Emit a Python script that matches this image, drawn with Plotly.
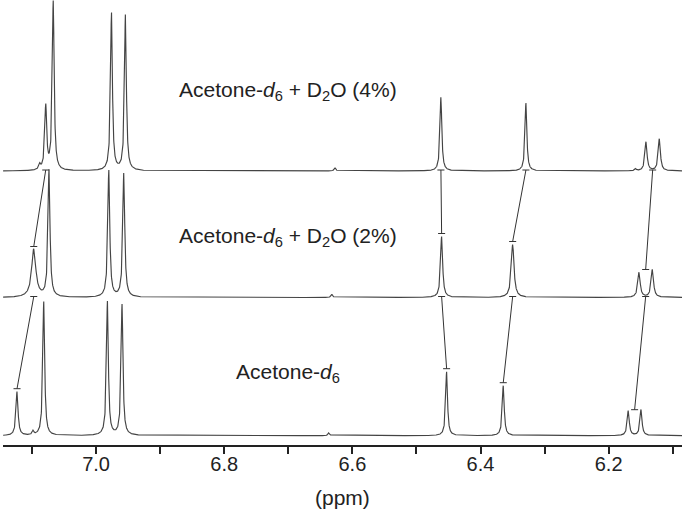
import numpy as np
import plotly.graph_objects as go

# peaks: position (ppm), height above baseline, half width (ppm)
# order in each list: a (moving), b, c, d, e, f, g1, g2
top_ppm = [7.0786, 7.0669, 6.9760, 6.9542, 6.4618, 6.3291, 6.1417, 6.1209]
top_height = [64, 169, 158, 156, 74, 68, 29, 32]
top_hw = [0.0018, 0.0017, 0.0017, 0.0017, 0.0017, 0.0017, 0.0020, 0.0020]

mid_ppm = [7.0973, 7.0735, 6.9802, 6.9568, 6.4607, 6.3498, 6.1526, 6.1318]
mid_height = [48, 127, 127, 124, 61, 53, 25, 28]
mid_hw = [0.0039, 0.0018, 0.0018, 0.0018, 0.0019, 0.0025, 0.0022, 0.0022]

bot_ppm = [7.1234, 7.0817, 6.9823, 6.9595, 6.4529, 6.3645, 6.1694, 6.1495]
bot_height = [44, 134, 134, 131, 64, 50, 25, 26]
bot_hw = [0.0019, 0.0017, 0.0017, 0.0017, 0.0017, 0.0018, 0.0019, 0.0019]

# small impurity bumps
top_minor_ppm = [7.088, 6.627, 6.158]
top_minor_height = [5, 3, 2]
mid_minor_ppm = [6.632]
mid_minor_height = [3]
bot_minor_ppm = [7.0984, 6.6367]
bot_minor_height = [4, 3]

# vertical offset of each spectrum
baselines = {"top": 274, "mid": 147.5, "bot": 9.3}

labels = ["Acetone-<i>d</i><sub>6</sub> + D<sub>2</sub>O (4%)",
          "Acetone-<i>d</i><sub>6</sub> + D<sub>2</sub>O (2%)",
          "Acetone-<i>d</i><sub>6</sub>"]
label_ppm = [6.700, 6.700, 6.701]
label_y = [354, 208, 72]

# which peaks are joined between neighbouring spectra
link_peaks = [[0], [4], [5], [6, 7]]

major_ticks = [7.0, 6.8, 6.6, 6.4, 6.2]
minor_ticks = [7.1, 6.9, 6.7, 6.5, 6.3, 6.1]

x_lo, x_hi = 6.0855, 7.1453
ppm = np.arange(x_lo, x_hi, 0.0002)


def spectrum(pos, hts, hws, mpos, mhts, base):
    y = np.full_like(ppm, base)
    for p, h, w in zip(pos, hts, hws):
        y += h * w**2 / ((ppm - p)**2 + w**2)
    for p, h in zip(mpos, mhts):
        y += h * 0.0015**2 / ((ppm - p)**2 + 0.0015**2)
    return y


spectra = {
    "top": (top_ppm, top_height, top_hw, top_minor_ppm, top_minor_height),
    "mid": (mid_ppm, mid_height, mid_hw, mid_minor_ppm, mid_minor_height),
    "bot": (bot_ppm, bot_height, bot_hw, bot_minor_ppm, bot_minor_height),
}

fig = go.Figure()
for key, (pos, hts, hws, mpos, mhts) in spectra.items():
    fig.add_trace(go.Scatter(x=ppm, y=spectrum(pos, hts, hws, mpos, mhts, baselines[key]),
                             mode='lines', line=dict(color='#444444', width=1.15),
                             hoverinfo='skip', showlegend=False))

# connector lines with small caps
cap = 0.0055
lx, ly = [], []
for upper, lower in [("top", "mid"), ("mid", "bot")]:
    up_pos = spectra[upper][0]
    lo_pos, lo_hts = spectra[lower][0], spectra[lower][1]
    for idx in link_peaks:
        x0 = np.mean([up_pos[i] for i in idx])
        y0 = baselines[upper] + 1
        x1 = np.mean([lo_pos[i] for i in idx])
        gap = 3 if len(idx) == 1 else 0
        y1 = baselines[lower] + max(lo_hts[i] for i in idx) + gap
        lx += [x0, x1, None, x0 - cap, x0 + cap, None, x1 - cap, x1 + cap, None]
        ly += [y0, y1, None, y0, y0, None, y1, y1, None]
fig.add_trace(go.Scatter(x=lx, y=ly, mode='lines', line=dict(color='#333333', width=1),
                         hoverinfo='skip', showlegend=False))

for txt, xp, yp in zip(labels, label_ppm, label_y):
    fig.add_annotation(x=xp, y=yp, text=txt, showarrow=False, xanchor='center', yanchor='middle',
                       font=dict(size=21, color='#222222'))

# axis title
fig.add_annotation(x=0.5, y=-0.117, xref='paper', yref='paper', text='(ppm)', showarrow=False,
                   xanchor='center', yanchor='middle', font=dict(size=21, color='#222222'))

fig.update_layout(
    width=685, height=515,
    margin=dict(l=3, r=3, t=0, b=70),
    plot_bgcolor='white', paper_bgcolor='white',
    font=dict(family='Liberation Sans, Arial, sans-serif', color='#222222', size=20),
    xaxis=dict(range=[x_hi, x_lo], tickmode='array', tickvals=major_ticks,
               ticktext=[f"{v:.1f}" for v in major_ticks],
               ticks='outside', ticklen=7, tickwidth=2, tickcolor='#222222',
               minor=dict(tickmode='array', tickvals=minor_ticks, ticks='outside',
                          ticklen=7, tickwidth=2, tickcolor='#222222', showgrid=False),
               showline=True, linewidth=2, linecolor='#222222', showgrid=False, zeroline=False,
               tickfont=dict(size=20), ticklabelstandoff=-7, automargin=False),
    yaxis=dict(range=[0, 445], visible=False, showgrid=False, zeroline=False),
)

fig.write_html("out.html", config={'displayModeBar': False},
               post_script="document.body.style.margin='0';")
